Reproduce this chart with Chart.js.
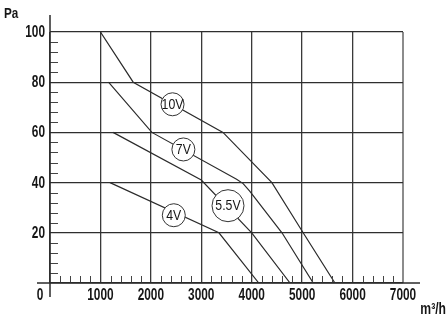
<!DOCTYPE html>
<html>
<head>
<meta charset="utf-8">
<script src="https://cdn.jsdelivr.net/npm/chart.js@4/dist/chart.umd.min.js"></script>
<style>
  html, body { margin: 0; padding: 0; background: #fff; }
  canvas { display: block; }
</style>
</head>
<body>
<canvas id="fanChart" width="448" height="323"></canvas>
<script>
// Axis ticks
const flowTicks = [0, 1000, 2000, 3000, 4000, 5000, 6000, 7000];
const pressureTicks = [0, 20, 40, 60, 80, 100];

// Fan curves per control voltage: airflow (m³/h) vs static pressure (Pa)
const curveNames = ['10V', '7V', '5.5V', '4V'];
const flow10V = [1000, 1650, 3430, 4400, 5020, 5650];
const pres10V = [100, 80, 60, 40, 20, 0];
const flow7V = [1160, 2020, 3700, 3830, 3960, 4600, 5220];
const pres7V = [80, 60, 41.3, 39.6, 36.6, 20, 0];
const flow55V = [1250, 3000, 4000, 4760];
const pres55V = [60, 41, 20, 0];
const flow4V = [1190, 3350, 4140];
const pres4V = [40, 20, 0];

const curveFlows = [flow10V, flow7V, flow55V, flow4V];
const curvePressures = [pres10V, pres7V, pres55V, pres4V];

const FONT = "'Liberation Sans', Arial, sans-serif";
const INK = '#161616';

const datasets = curveNames.map((name, i) => ({
  label: name,
  data: curveFlows[i].map((x, k) => ({ x: x, y: curvePressures[i][k] })),
  borderColor: '#2b2b2b',
  borderWidth: 1.2,
  pointRadius: 0,
  fill: false,
  tension: 0
}));

// Draws text squeezed horizontally (condensed face look)
function condensedText(ctx, text, x, y, align, font, squeeze) {
  ctx.save();
  ctx.font = font;
  ctx.textBaseline = 'middle';
  ctx.textAlign = 'left';
  const w = ctx.measureText(text).width * squeeze;
  let left = x;
  if (align === 'center') left = x - w / 2;
  else if (align === 'right') left = x - w;
  ctx.translate(left, y);
  ctx.scale(squeeze, 1);
  ctx.fillText(text, 0, 0);
  ctx.restore();
}

// Extended axis lines, minor ticks, tick labels, unit captions and circled curve names
const decorations = {
  id: 'decorations',
  afterDatasetsDraw(chart, args, opts) {
    const ctx = chart.ctx;
    const xs = chart.scales.x, ys = chart.scales.y;
    const a = chart.chartArea;
    ctx.save();

    // minor ticks
    ctx.strokeStyle = '#444';
    ctx.lineWidth = 1;
    ctx.beginPath();
    for (let v = 200; v < 7000; v += 200) {
      if (v % 1000 === 0) continue;
      const px = Math.round(xs.getPixelForValue(v)) + 0.5;
      ctx.moveTo(px, a.bottom);
      ctx.lineTo(px, a.bottom - 7);
    }
    for (let v = 4; v < 100; v += 4) {
      if (v % 20 === 0) continue;
      const py = Math.round(ys.getPixelForValue(v)) + 0.5;
      ctx.moveTo(a.left, py);
      ctx.lineTo(a.left + 8, py);
    }
    ctx.stroke();

    // axis lines extending past the plot
    ctx.strokeStyle = '#2b2b2b';
    ctx.lineWidth = 1.5;
    ctx.beginPath();
    ctx.moveTo(a.left - 13, a.bottom);
    ctx.lineTo(a.right + 17, a.bottom);
    ctx.moveTo(a.left, a.top - 17);
    ctx.lineTo(a.left, a.bottom + 14);
    ctx.stroke();

    // tick labels
    ctx.fillStyle = INK;
    const tickFont = 'bold 16px ' + FONT;
    xs.ticks.forEach(t => {
      if (t.value === 0) return;
      condensedText(ctx, String(t.value), xs.getPixelForValue(t.value), a.bottom + 12.5, 'center', tickFont, 0.74);
    });
    ys.ticks.forEach(t => {
      if (t.value === 0) return;
      condensedText(ctx, String(t.value), a.left - 5, ys.getPixelForValue(t.value) + 0.5, 'right', tickFont, 0.74);
    });
    condensedText(ctx, '0', a.left - 10, a.bottom + 12.5, 'center', tickFont, 0.74);

    // unit captions
    condensedText(ctx, 'Pa', 4, 14, 'left', 'bold 15px ' + FONT, 0.78);
    condensedText(ctx, 'm³/h', 446, 310, 'right', 'bold 16px ' + FONT, 0.76);

    // circled curve names
    opts.labels.forEach(l => {
      const cx = xs.getPixelForValue(l.x);
      const cy = ys.getPixelForValue(l.y);
      ctx.beginPath();
      ctx.arc(cx, cy, l.r, 0, Math.PI * 2);
      ctx.fillStyle = '#fff';
      ctx.fill();
      ctx.strokeStyle = '#333';
      ctx.lineWidth = 1;
      ctx.stroke();
      ctx.fillStyle = INK;
      condensedText(ctx, l.text, cx, cy + 0.5, 'center', '15px ' + FONT, 0.82);
    });
    ctx.restore();
  }
};

new Chart(document.getElementById('fanChart'), {
  type: 'line',
  data: { datasets: datasets },
  plugins: [decorations],
  options: {
    responsive: false,
    animation: false,
    devicePixelRatio: 1,
    layout: { padding: { top: 32, right: 45, left: 0, bottom: 0 } },
    plugins: {
      legend: { display: false },
      tooltip: { enabled: false },
      decorations: {
        labels: [
          { text: curveNames[0], x: 2430, y: 71.2, r: 11.5 },
          { text: curveNames[1], x: 2645, y: 53.2, r: 11.5 },
          { text: curveNames[2], x: 3530, y: 30.8, r: 16 },
          { text: curveNames[3], x: 2455, y: 27.0, r: 11.5 }
        ]
      }
    },
    scales: {
      x: {
        type: 'linear',
        min: 0,
        max: 7000,
        afterBuildTicks: s => { s.ticks = flowTicks.map(v => ({ value: v })); },
        afterFit: s => { s.height = 40; },
        border: { display: false },
        grid: {
          drawTicks: false,
          color: c => (c.tick && c.tick.value === 7000) ? '#8c8c8c' : '#3a3a3a',
          lineWidth: c => (c.tick && c.tick.value === 7000) ? 2 : 1.3
        },
        ticks: { display: false }
      },
      y: {
        type: 'linear',
        min: 0,
        max: 100,
        afterBuildTicks: s => { s.ticks = pressureTicks.map(v => ({ value: v })); },
        afterFit: s => { s.width = 50; },
        border: { display: false },
        grid: { drawTicks: false, color: '#2e2e2e', lineWidth: 1.3 },
        ticks: { display: false }
      }
    }
  }
});
</script>
</body>
</html>
